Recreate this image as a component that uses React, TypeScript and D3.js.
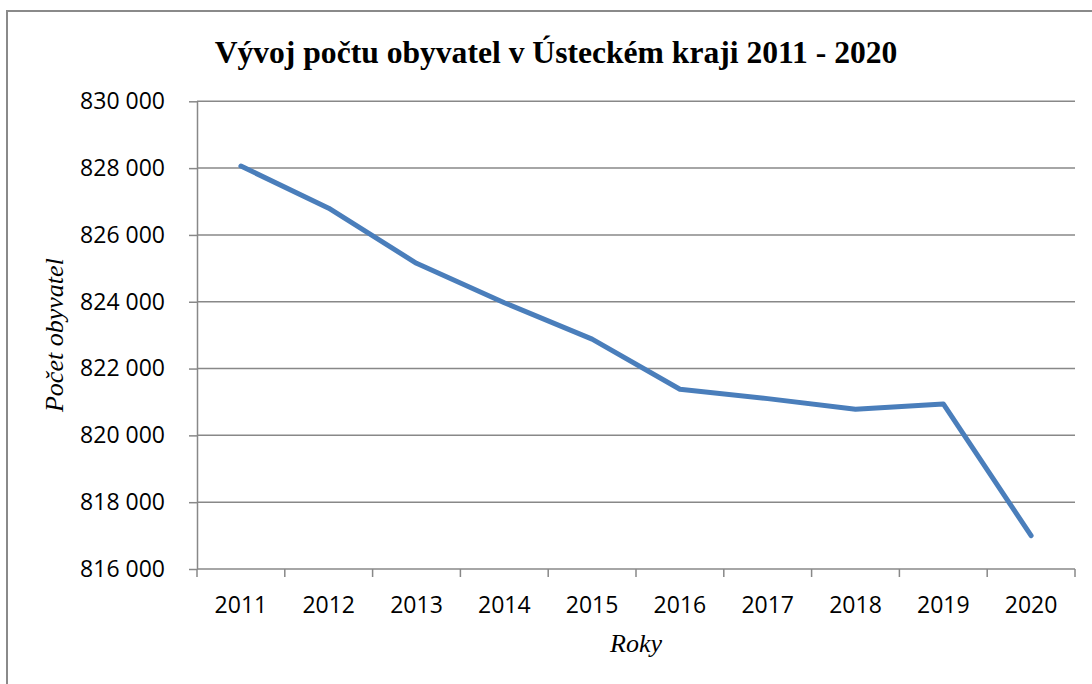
import { useEffect, useRef } from "react";
import * as d3 from "d3";

const years = ["2011", "2012", "2013", "2014", "2015", "2016", "2017", "2018", "2019", "2020"];
const population = [828060, 826800, 825150, 823970, 822880, 821380, 821100, 820780, 820940, 817000];
const yTicks = [816000, 818000, 820000, 822000, 824000, 826000, 828000, 830000];

const title = "Vývoj počtu obyvatel v Ústeckém kraji 2011 - 2020";
const yTitle = "Počet obyvatel";
const xTitle = "Roky";

export default function App() {
  const svgRef = useRef<SVGSVGElement>(null);

  const width = 1092;
  const height = 684;
  const gridColor = "#888888";

  useEffect(() => {
    const svg = d3.select(svgRef.current);
    svg.selectAll("*").remove();

    const x = d3.scaleBand().domain(years).range([197, 1075]).padding(0);
    const y = d3.scaleLinear().domain([816000, 830000]).range([569, 101.3]);

    const fmt = d3.formatLocale({ decimal: ",", thousands: " ", grouping: [3], currency: ["", ""] }).format(",");

    // outer frame (only left and top visible)
    svg.append("path")
      .attr("d", `M7,${height} L7,11 L${width},11`)
      .attr("fill", "none")
      .attr("stroke", "#8a8a8a")
      .attr("stroke-width", 2);

    // gridlines
    svg.append("g")
      .selectAll("line")
      .data(yTicks.filter((d) => d !== 816000))
      .join("line")
      .attr("x1", 197)
      .attr("x2", 1075)
      .attr("y1", (d) => y(d))
      .attr("y2", (d) => y(d))
      .attr("stroke", gridColor)
      .attr("stroke-width", 1.5);

    // y axis
    const yAxis = svg.append("g")
      .attr("transform", "translate(197,0)")
      .call(d3.axisLeft(y).tickValues(yTicks).tickSize(8).tickSizeOuter(0).tickPadding(24).tickFormat((d) => fmt(d as number)));
    yAxis.select(".domain").attr("stroke", gridColor).attr("stroke-width", 1.5);
    yAxis.selectAll(".tick line").attr("stroke", gridColor).attr("stroke-width", 1.5);
    yAxis.selectAll("text")
      .attr("font-family", "'Open Sans', sans-serif")
      .attr("font-size", 23)
      .attr("fill", "#000");

    // x axis: labels centred, ticks on category boundaries
    const xAxis = svg.append("g")
      .attr("transform", "translate(0,569)")
      .call(d3.axisBottom(x).tickSize(0).tickPadding(27.7));
    xAxis.select(".domain").remove();
    xAxis.selectAll("text")
      .attr("font-family", "'Open Sans', sans-serif")
      .attr("font-size", 23)
      .attr("fill", "#000");

    const bounds = years.map((d) => x(d) as number).concat([x.range()[1]]);
    svg.append("line")
      .attr("x1", 197).attr("x2", 1075)
      .attr("y1", 569).attr("y2", 569)
      .attr("stroke", gridColor).attr("stroke-width", 1.5);
    svg.append("g")
      .selectAll("line")
      .data(bounds)
      .join("line")
      .attr("x1", (d) => d).attr("x2", (d) => d)
      .attr("y1", 569).attr("y2", 577)
      .attr("stroke", gridColor).attr("stroke-width", 1.5);

    // data line
    const line = d3.line<number>()
      .x((_, i) => (x(years[i]) as number) + x.bandwidth() / 2)
      .y((d) => y(d));
    svg.append("path")
      .datum(population)
      .attr("d", line)
      .attr("fill", "none")
      .attr("stroke", "#4a7ebb")
      .attr("stroke-width", 5)
      .attr("stroke-linejoin", "round")
      .attr("stroke-linecap", "round");

    // titles
    svg.append("text")
      .attr("x", 556)
      .attr("y", 63)
      .attr("text-anchor", "middle")
      .attr("font-family", "'Liberation Serif', serif")
      .attr("font-weight", "bold")
      .attr("font-size", 31.6)
      .text(title);

    svg.append("text")
      .attr("transform", `translate(63,${(569 + 101.3) / 2}) rotate(-90)`)
      .attr("text-anchor", "middle")
      .attr("font-family", "'Liberation Serif', serif")
      .attr("font-style", "italic")
      .attr("font-size", 26)
      .text(yTitle);

    svg.append("text")
      .attr("x", (197 + 1075) / 2)
      .attr("y", 652)
      .attr("text-anchor", "middle")
      .attr("font-family", "'Liberation Serif', serif")
      .attr("font-style", "italic")
      .attr("font-size", 26)
      .text(xTitle);
  }, []);

  return (
    <svg
      ref={svgRef}
      width={width}
      height={height}
      style={{ position: "absolute", left: 0, top: 0, background: "#fff" }}
    ></svg>
  );
}
